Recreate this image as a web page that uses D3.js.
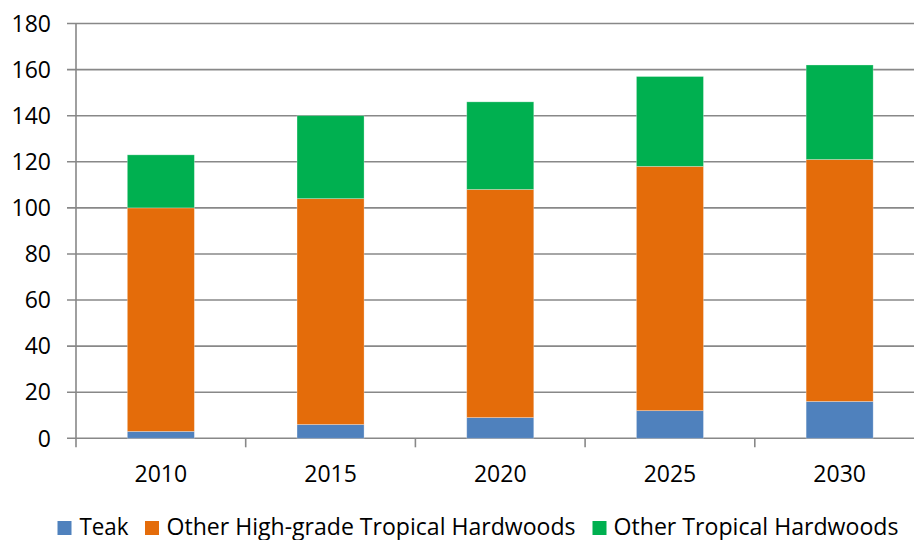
<!DOCTYPE html>
<html>
<head>
<meta charset="utf-8">
<script src="https://cdn.jsdelivr.net/npm/d3@7"></script>
<style>
  html, body { margin: 0; padding: 0; background: #fff; }
  svg { display: block; }
  text { font-family: "Open Sans", "Liberation Sans", sans-serif; fill: #000; }
</style>
</head>
<body>
<div id="chart"></div>
<script>
// Projected hardwood supply by year, stacked by timber class
const years = ["2010", "2015", "2020", "2025", "2030"];
const teak = [3, 6, 9, 12, 16];
const otherHighGrade = [97, 98, 99, 106, 105];
const otherTropical = [23, 36, 38, 39, 41];
const seriesNames = ["Teak", "Other High-grade Tropical Hardwoods", "Other Tropical Hardwoods"];
const seriesColors = ["#4F81BD", "#E46C0A", "#00B050"];
const yTicks = [0, 20, 40, 60, 80, 100, 120, 140, 160, 180];

const W = 914, H = 540;
const margin = { left: 76, top: 23.5, bottom: 438.3 };
const bandW = 169.7;
const plotRight = margin.left + bandW * years.length;

const rows = years.map((y, i) => ({
  year: y,
  [seriesNames[0]]: teak[i],
  [seriesNames[1]]: otherHighGrade[i],
  [seriesNames[2]]: otherTropical[i]
}));
const stacked = d3.stack().keys(seriesNames)(rows);

const svg = d3.select("#chart").append("svg")
  .attr("width", W).attr("height", H);

const x = d3.scaleBand().domain(years)
  .range([margin.left, plotRight])
  .paddingInner(0.605).paddingOuter(0.3025);
const y = d3.scaleLinear().domain([0, 180]).range([margin.bottom, margin.top]);

// horizontal gridlines with short ticks left of the axis
svg.append("g").selectAll("line").data(yTicks).join("line")
  .attr("x1", margin.left - 9).attr("x2", plotRight)
  .attr("y1", d => y(d)).attr("y2", d => y(d))
  .attr("stroke", "#888").attr("stroke-width", 1.6);

// y-axis labels
svg.append("g").selectAll("text").data(yTicks).join("text")
  .attr("x", 51).attr("y", d => y(d))
  .attr("dy", "0.36em")
  .attr("text-anchor", "end")
  .attr("font-size", 23)
  .text(d => d);

// vertical axis line
svg.append("line")
  .attr("x1", margin.left).attr("x2", margin.left)
  .attr("y1", y(180)).attr("y2", y(0) + 9)
  .attr("stroke", "#888").attr("stroke-width", 1.6);

// category boundary ticks on the x axis
const boundaries = d3.range(1, years.length + 1).map(i => margin.left + i * bandW);
svg.append("g").selectAll("line").data(boundaries).join("line")
  .attr("x1", d => d).attr("x2", d => d)
  .attr("y1", y(0)).attr("y2", y(0) + 9)
  .attr("stroke", "#888").attr("stroke-width", 1.6);

// stacked bars
svg.append("g").selectAll("g").data(stacked).join("g")
  .attr("fill", (d, i) => seriesColors[i])
  .selectAll("rect").data(d => d).join("rect")
  .attr("x", d => x(d.data.year))
  .attr("width", x.bandwidth())
  .attr("y", d => y(d[1]))
  .attr("height", d => y(d[0]) - y(d[1]))
  .attr("stroke", "#ffffff").attr("stroke-opacity", 0.35).attr("stroke-width", 0.8);

// year labels
svg.append("g").selectAll("text").data(years).join("text")
  .attr("x", d => x(d) + x.bandwidth() / 2)
  .attr("y", 481.5)
  .attr("text-anchor", "middle")
  .attr("font-size", 23)
  .text(d => d);

// legend
const legendItems = [
  { name: seriesNames[0], color: seriesColors[0], sx: 57.5, tx: 79.5, tw: 49 },
  { name: seriesNames[1], color: seriesColors[1], sx: 145, tx: 166.5, tw: 409 },
  { name: seriesNames[2], color: seriesColors[2], sx: 592.5, tx: 613.5, tw: 285 }
];
const legend = svg.append("g");
legend.selectAll("rect").data(legendItems).join("rect")
  .attr("x", d => d.sx).attr("y", 521)
  .attr("width", 14).attr("height", 14)
  .attr("fill", d => d.color);
legend.selectAll("text").data(legendItems).join("text")
  .attr("x", d => d.tx).attr("y", 534.5)
  .attr("font-size", 23)
  .attr("textLength", d => d.tw)
  .attr("lengthAdjust", "spacingAndGlyphs")
  .text(d => d.name);
</script>
</body>
</html>
